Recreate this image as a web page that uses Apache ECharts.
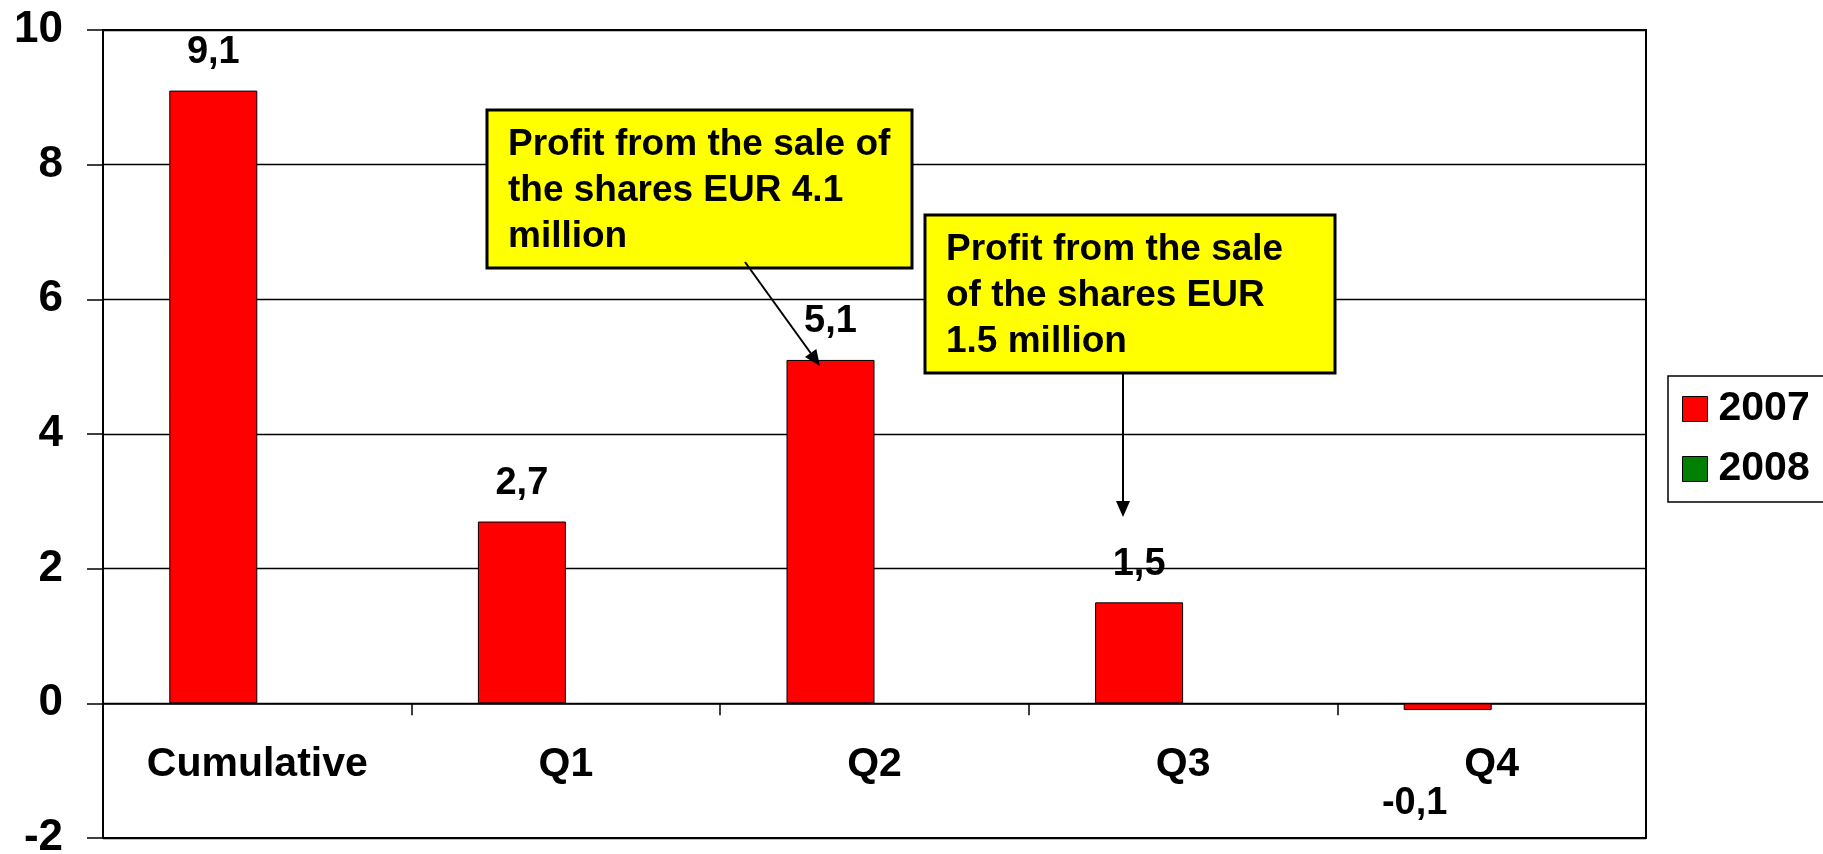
<!DOCTYPE html>
<html>
<head>
<meta charset="utf-8">
<script src="https://cdn.jsdelivr.net/npm/echarts@6/dist/echarts.min.js"></script>
<style>
html,body{margin:0;padding:0;background:#fff;}
#chart{width:1823px;height:854px;}
</style>
</head>
<body>
<div id="chart"></div>
<script>
const categories = ['Cumulative', 'Q1', 'Q2', 'Q3', 'Q4'];
const values2007 = [9.1, 2.7, 5.1, 1.5, -0.1];
const values2008 = [null, null, null, null, null];
const seriesNames = ['2007', '2008'];
const note1Lines = ['Profit from the sale of', 'the shares EUR 4.1', 'million'];
const note2Lines = ['Profit from the sale', 'of the shares EUR', '1.5 million'];

const FONT = '"Liberation Sans", Arial, sans-serif';
const chart = echarts.init(document.getElementById('chart'), null, {renderer: 'canvas'});

const fmt = v => String(v).replace('.', ',');

const data2007 = values2007.map((v, i) => {
  const item = {value: v};
  if (v < 0) {
    item.label = {position: 'bottom', distance: 74, offset: [-33, 0]};
  }
  return item;
});

function noteBox(x, y, w, h, lines) {
  return [
    {type: 'rect', shape: {x: x, y: y, width: w, height: h},
     style: {fill: '#FFFF00', stroke: '#000', lineWidth: 3}, z: 100},
    {type: 'text', x: x + 21, y: y + 12,
     style: {text: lines.join('\n'), font: 'bold 37px ' + FONT, lineHeight: 46, fill: '#000',
             textVerticalAlign: 'top'}, z: 101}
  ];
}
function arrow(x1, y1, x2, y2) {
  const ang = Math.atan2(y2 - y1, x2 - x1);
  const L = 16, W = 7;
  const bx = x2 - L * Math.cos(ang), by = y2 - L * Math.sin(ang);
  const px = -Math.sin(ang) * W, py = Math.cos(ang) * W;
  return [
    {type: 'line', shape: {x1: x1, y1: y1, x2: bx, y2: by}, style: {stroke: '#000', lineWidth: 2}, z: 102},
    {type: 'polygon', shape: {points: [[x2, y2], [bx + px, by + py], [bx - px, by - py]]},
     style: {fill: '#000'}, z: 102}
  ];
}

const option = {
  animation: false,
  backgroundColor: '#fff',
  grid: {left: 103, right: 177, top: 30, bottom: 16, containLabel: false, outerBoundsMode: 'none',
         show: true, borderColor: '#000', borderWidth: 2, backgroundColor: 'transparent'},
  legend: {
    orient: 'vertical', left: 1668, top: 376,
    data: seriesNames,
    itemWidth: 25, itemHeight: 25, itemGap: 18,
    padding: [12, 40, 12, 14],
    borderColor: '#000', borderWidth: 1.5,
    icon: 'rect',
    itemStyle: {borderColor: '#000', borderWidth: 1},
    textStyle: {fontFamily: FONT, fontWeight: 'bold', fontSize: 41, color: '#000', lineHeight: 40, padding: [2, 0, 0, 6]}
  },
  xAxis: {
    type: 'category', data: categories,
    axisLine: {onZero: true, lineStyle: {color: '#000', width: 1.5}},
    axisTick: {show: true, length: 12, interval: 0, lineStyle: {color: '#000', width: 1.5}},
    axisLabel: {fontFamily: FONT, fontWeight: 'bold', fontSize: 41, color: '#000', margin: -94, interval: 0},
    splitLine: {show: false}
  },
  yAxis: {
    type: 'value', min: -2, max: 10, interval: 2,
    axisLine: {show: true, lineStyle: {color: '#000', width: 2}},
    axisTick: {show: true, length: 16, lineStyle: {color: '#000', width: 1.5}},
    axisLabel: {fontFamily: FONT, fontWeight: 'bold', fontSize: 44, color: '#000', margin: 40},
    splitLine: {show: true, lineStyle: {color: '#000', width: 1.3}}
  },
  series: [
    {
      name: seriesNames[0], type: 'bar', data: data2007,
      barWidth: 88, barGap: '0%',
      itemStyle: {color: '#FF0000', borderColor: '#000', borderWidth: 1},
      label: {show: true, position: 'top', distance: 19, formatter: p => fmt(p.value),
              fontFamily: FONT, fontWeight: 'bold', fontSize: 38, color: '#000'}
    },
    {
      name: seriesNames[1], type: 'bar', data: values2008,
      barWidth: 88,
      itemStyle: {color: '#008000', borderColor: '#000', borderWidth: 1}
    }
  ],
  graphic: [].concat(
    noteBox(487, 110, 425, 158, note1Lines),
    noteBox(925, 215, 410, 158, note2Lines),
    arrow(745, 262, 820, 366),
    arrow(1123, 373, 1123, 517)
  )
};
chart.setOption(option);
</script>
</body>
</html>
